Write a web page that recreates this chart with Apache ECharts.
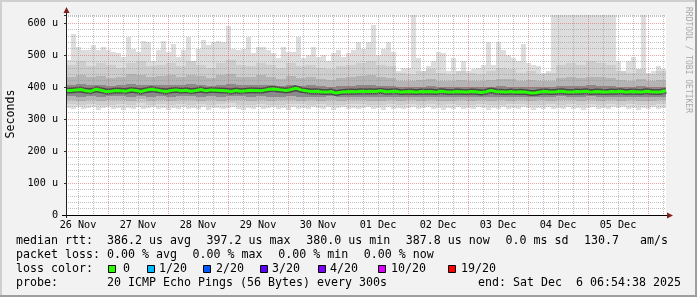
<!DOCTYPE html>
<html><head><meta charset="utf-8">
<script src="https://cdn.jsdelivr.net/npm/echarts@6/dist/echarts.min.js"></script>
<style>html,body{margin:0;padding:0;background:#f2f2f2}#c{width:697px;height:297px}</style>
</head><body><div id="c"></div>
<script>
// ---------- data ----------
const spanHours = 240;               // 10 days shown, graph starts 26 Nov 07:12
const dayLabels = ['26 Nov','27 Nov','28 Nov','29 Nov','30 Nov','01 Dec','02 Dec','03 Dec','04 Dec','05 Dec'];
const yMax = 625;
// top of the lightest smoke (slowest ping), microseconds, 120 columns of 2h
const maxRtt = [485,565,525,515,515,530,515,525,515,510, 505,495,555,520,510,545,540,480,515,545,
 510,535,495,515,555,480,520,548,530,540, 545,540,590,520,515,520,555,505,525,525,
 515,505,490,525,510,510,555,490,500,525, 495,500,480,505,515,495,505,515,540,520,
 540,595,500,520,540,510,450,460,460,625, 490,450,465,480,510,505,450,490,450,480,
 450,455,460,470,540,470,540,515,500,490, 480,535,475,470,465,445,450,625,625,625,
 625,625,625,625,625,625,625,625,625,625, 480,450,480,495,450,625,445,450,465,455];
// bottom of the lightest smoke (fastest ping), 120 columns
const minRtt = [335,332,338,330,334,336,329,333,337,331, 334,328,335,332,338,330,333,336,331,334,
 329,335,332,337,330,334,331,336,328,333, 335,330,334,337,331,329,335,332,336,330,
 333,337,331,334,329,336,332,335,330,338, 333,331,336,329,334,337,332,335,330,333,
 336,331,334,329,337,332,335,330,333,338, 331,334,336,330,333,329,335,332,337,331,
 334,330,336,333,329,335,331,338,332,334, 330,336,333,329,335,332,337,331,334,330,
 336,332,335,329,333,337,331,334,330,336, 333,338,331,335,329,334,332,336,330,333];
// median rtt, 120 columns
const medianRtt = [389,391,392,388,387,393,390,386,387,389, 388,387,391,389,386,390,393,391,388,386,
 389,391,388,390,387,389,392,388,391,390, 389,388,386,389,387,388,390,389,388,391,
 394,393,391,389,392,396,391,388,386,387, 385,384,386,381,384,385,386,385,387,386,
 387,386,388,385,386,387,384,385,386,384, 386,385,386,384,387,385,384,386,385,384,
 386,385,383,385,389,386,385,384,386,384, 385,384,381,382,385,386,384,385,387,385,
 384,386,385,387,384,386,385,384,386,385, 387,384,386,385,384,387,385,384,385,388];
// inner smoke layers, 60 columns of 4h
const smokeHi = [470,480,465,475,470,460,475,480,465,470, 475,465,480,470,460,475,485,470,465,475,
 470,460,475,465,470,460,455,465,470,475, 480,470,465,445,440,450,455,445,440,450,
 445,440,450,460,455,445,450,440,445,470, 475,470,480,475,470,450,445,455,440,450];
const midHi = [432,438,430,435,428,432,440,436,430,434, 436,430,438,434,428,436,440,432,430,436,
 432,426,434,428,430,425,422,428,430,434, 436,430,428,420,418,422,424,420,418,422,
 420,418,422,426,424,420,422,418,420,428, 430,428,432,430,428,422,420,424,418,422];
const coreHi = [406,408,405,407,404,406,409,407,405,406, 407,405,408,406,404,407,409,406,405,407,
 405,403,406,404,405,402,401,403,404,405, 406,404,403,400,399,401,402,400,399,401,
 400,399,401,402,401,400,401,399,400,403, 404,403,405,404,403,401,400,402,399,401];
const coreLo = [371,370,372,369,371,372,370,373,369,371, 370,372,371,369,372,370,373,371,369,371,
 370,369,371,368,370,369,371,368,369,370, 369,368,370,369,370,368,370,369,368,370,
 369,370,368,369,368,370,369,370,369,371, 370,369,371,369,370,368,370,369,368,370];
const midLo = [358,357,360,356,358,359,357,361,356,358, 357,360,358,356,359,357,360,358,356,359,
 357,358,360,356,358,357,359,356,358,360, 357,356,359,357,358,356,359,357,356,358,
 357,359,356,358,357,360,356,358,357,359, 358,356,359,357,358,356,359,357,356,358];
const smokeLo = [346,344,348,345,343,347,345,349,344,346, 343,347,345,348,344,346,349,345,343,347,
 345,344,348,346,343,347,345,344,346,348, 345,343,347,344,346,345,348,343,346,345,
 344,347,345,343,346,348,344,345,347,343, 346,345,348,344,346,343,347,345,344,346];
// legend texts
const statsLine = [['median rtt:  386.2 us avg',16],['397.2 us max',206.6],['380.0 us min',306.2],
  ['387.8 us now',405.8],['0.0 ms sd',505.4],['130.7   am/s',584]];
const lossLine = [['packet loss: 0.00 % avg',16],['0.00 % max',192.6],['0.00 % min',278.2],['0.00 % now',363.8]];
const lossColors = [['0','#26ff00',108,123],['1/20','#00b8ff',147,159],['2/20','#0059ff',203,216],
  ['3/20','#5e00ff',260,272],['4/20','#7e00ff',318,330],['10/20','#dd00ff',378,391],['19/20','#ff0000',448,461]];

// ---------- chart ----------
const FONT = 'DejaVu Sans Mono';
const L = 66, T = 15, W = 600, H = 200;
const gridStep = 1.2; // hours per grid category
const gridCats = Array.from({length: Math.round(spanHours / gridStep) + 1}, (_, k) => k);

function band(lo, hi, color, z) {
  const w = spanHours / hi.length;
  return {
    type: 'custom', xAxisIndex: 0, yAxisIndex: 0, z, silent: true, animation: false,
    encode: {x: [0], y: [1, 2]},
    data: hi.map((v, i) => [i * w, lo[i], v, w]),
    renderItem: (params, api) => {
      const x = api.value(0), a = api.coord([x, api.value(2)]), b = api.coord([x + api.value(3), api.value(1)]);
      const x0 = Math.round(a[0]), x1 = Math.round(b[0]), y0 = Math.round(a[1]), y1 = Math.round(b[1]);
      return {type: 'rect', shape: {x: x0, y: y0, width: x1 - x0, height: y1 - y0}, style: {fill: color}};
    }
  };
}
const colH = spanHours / medianRtt.length;
const medData = medianRtt.map((v, i) => [i * colH, v]).concat([[spanHours, medianRtt[medianRtt.length - 1]]]);

const grayGrid = 'rgba(143,143,143,0.55)';
const redGrid = 'rgba(222,79,79,0.5)';

const texts = [];
function txt(s, x, y, extra) {
  texts.push(Object.assign({type: 'text', x, y, silent: true, style: {text: s, font: '11.63px "' + FONT + '"', fill: '#000', textVerticalAlign: 'middle'}}, extra || {}));
}
statsLine.forEach(([s, x]) => txt(s, x, 241));
lossLine.forEach(([s, x]) => txt(s, x, 255));
txt('loss color:', 16, 269);
lossColors.forEach(([s, c, bx, tx]) => {
  texts.push({type: 'rect', silent: true, shape: {x: bx + 0.5, y: 265.5, width: 7, height: 7}, style: {fill: c, stroke: '#000', lineWidth: 1}});
  txt(s, tx, 269);
});
txt('probe:', 16, 283);
txt('20 ICMP Echo Pings (56 Bytes) every 300s', 107, 283);
txt('end: Sat Dec  6 06:54:38 2025', 681, 283, {});
texts[texts.length - 1].style.textAlign = 'right';
texts.push({type: 'text', x: 11, y: 114, rotation: Math.PI / 2, silent: true,
  style: {text: 'Seconds', font: '11.63px "' + FONT + '"', fill: '#000', textAlign: 'center', textVerticalAlign: 'middle'}});
texts.push({type: 'text', x: 688, y: 60, rotation: -Math.PI / 2, silent: true,
  style: {text: 'RRDTOOL / TOBI OETIKER', font: '8px "' + FONT + '"', fill: '#a8a8a8', textAlign: 'center', textVerticalAlign: 'middle'}});

const deco = [
  {type: 'rect', shape: {x: 0, y: 0, width: 697, height: 2}, style: {fill: '#cfcfcf'}, silent: true},
  {type: 'rect', shape: {x: 0, y: 0, width: 2, height: 297}, style: {fill: '#cfcfcf'}, silent: true},
  {type: 'rect', shape: {x: 0, y: 295, width: 697, height: 2}, style: {fill: '#9e9e9e'}, silent: true},
  {type: 'rect', shape: {x: 695, y: 0, width: 2, height: 297}, style: {fill: '#9e9e9e'}, silent: true},
  {type: 'line', shape: {x1: 62, y1: T + H + 0.5, x2: 668, y2: T + H + 0.5}, style: {stroke: '#000', lineWidth: 1}, z: 20, silent: true},
  {type: 'line', shape: {x1: L + 0.5, y1: 10, x2: L + 0.5, y2: T + H + 3}, style: {stroke: '#1f1f1f', lineWidth: 1}, z: 20, silent: true},
  {type: 'polygon', shape: {points: [[L + 0.5, 7], [L - 2.5, 13], [L + 3.5, 13]]}, style: {fill: '#7f1f1f'}, z: 20, silent: true},
  {type: 'polygon', shape: {points: [[673, T + H + 0.5], [667, T + H - 2.5], [667, T + H + 3.5]]}, style: {fill: '#7f1f1f'}, z: 20, silent: true}
];

const catAxisBase = {type: 'category', data: gridCats, boundaryGap: false, position: 'bottom', z: 5,
  axisLine: {show: false}, axisTick: {show: false}};

const option = {
  animation: false,
  backgroundColor: '#f2f2f2',
  grid: {left: L, top: T, width: W, height: H, show: true, backgroundColor: '#ffffff', borderWidth: 0, containLabel: false},
  xAxis: [
    {type: 'value', min: 0, max: spanHours, show: false},
    Object.assign({}, catAxisBase, {
      axisLabel: {show: true, margin: 5, interval: (i) => i % 20 === 4, fontFamily: FONT, fontSize: 10.17, color: '#000',
        formatter: (v, i) => dayLabels[(i - 4) / 20] || ''},
      splitLine: {show: true, interval: (i) => (i - 4) % 5 === 0 && (i - 14) % 20 !== 0,
        lineStyle: {color: grayGrid, width: 1, type: [1, 1]}}
    }),
    Object.assign({}, catAxisBase, {
      axisLabel: {show: false},
      splitLine: {show: true, interval: (i) => i >= 14 && (i - 14) % 20 === 0,
        lineStyle: {color: redGrid, width: 1, type: [1, 1]}}
    })
  ],
  yAxis: [
    {type: 'value', min: 0, max: yMax, interval: 20, z: 5, position: 'left',
      axisLine: {show: false}, axisTick: {show: false}, axisLabel: {show: false},
      splitLine: {show: true, lineStyle: {color: ['transparent', grayGrid, grayGrid, grayGrid, grayGrid], width: 1, type: [1, 1]}}},
    {type: 'value', min: 0, max: yMax, interval: 100, z: 5, position: 'left',
      axisLine: {show: false},
      axisTick: {show: true, length: 2, lineStyle: {color: '#333'}},
      axisLabel: {show: true, margin: 8, fontFamily: FONT, fontSize: 10.17, color: '#000',
        formatter: (v) => v === 0 ? '0' : (v > 600 ? '' : v + ' u')},
      splitLine: {show: true, showMinLine: false, showMaxLine: false, lineStyle: {color: redGrid, width: 1, type: [1, 1]}}}
  ],
  series: [
    band(minRtt, maxRtt, '#dddddd', 1),
    band(smokeLo, smokeHi, '#cdcdcd', 2),
    band(midLo, midHi, '#b4b4b4', 3),
    band(coreLo, coreHi, '#8a8a8a', 4),
    {type: 'line', xAxisIndex: 0, yAxisIndex: 0, data: medData, step: 'end', symbol: 'none', z: 4.5, silent: true,
      lineStyle: {color: '#4a4a4a', width: 6}},
    {type: 'line', xAxisIndex: 0, yAxisIndex: 0, data: medData, step: 'end', symbol: 'none', z: 8, silent: true,
      lineStyle: {color: '#26ff00', width: 3}},
    {type: 'line', xAxisIndex: 1, yAxisIndex: 0, data: []},
    {type: 'line', xAxisIndex: 2, yAxisIndex: 0, data: []}
  ],
  graphic: deco.concat(texts)
};
const chart = echarts.init(document.getElementById('c'), null, {width: 697, height: 297});
chart.setOption(option);
</script></body></html>
